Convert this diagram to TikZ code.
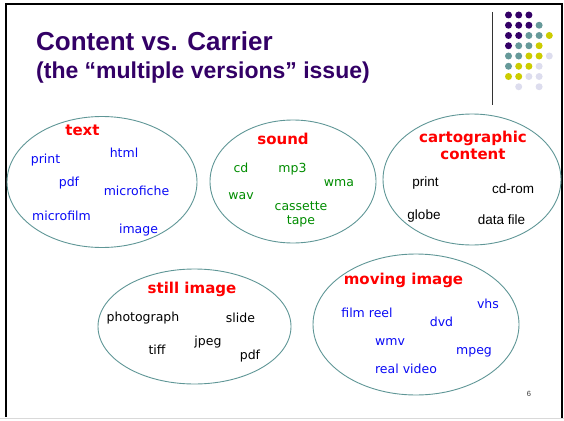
\documentclass[tikz,border=0pt]{standalone}
\usepackage{fontspec}
\setmainfont{Liberation Sans}
\newfontfamily\comicfont{DejaVu Sans}
\usepackage{xcolor}

\definecolor{titlepurple}{RGB}{51,0,102}
\definecolor{dotteal}{RGB}{102,153,153}
\definecolor{dotyellow}{RGB}{204,204,0}
\definecolor{dotlilac}{RGB}{221,221,238}
\definecolor{rimteal}{RGB}{95,150,150}
\definecolor{itemblue}{RGB}{10,10,245}
\definecolor{itemgreen}{RGB}{0,140,0}

\begin{document}
\begin{tikzpicture}[
                x=1pt, y=-1pt,
                title/.style={anchor=base west, inner sep=0pt, text=titlepurple, font=\bfseries\fontsize{26}{29}\selectfont},
                subtitle/.style={title, font=\bfseries\fontsize{23}{26}\selectfont},
                group/.style={draw=rimteal, line width=0.9pt},
                heading/.style={inner sep=0pt, text=red, font=\comicfont\bfseries\fontsize{15}{17}\selectfont},
                item/.style={inner sep=0pt, font=\comicfont\fontsize{12.5}{14}\selectfont},
                blueitem/.style={item, text=itemblue},
                greenitem/.style={item, text=itemgreen},
                blackitem/.style={item, text=black},
                mapitem/.style={inner sep=0pt, font=\fontsize{13.5}{15}\selectfont},
                dot/.style={radius=3.5}
                ]
                \useasboundingbox (0,0) rectangle (564,420);

                % Slide frame
                \draw[line width=2.4pt] (6.2,3.4) -- (6.2,417);
                \draw[line width=1.3pt] (5,4) -- (563,4);
                \draw[line width=2pt] (562.2,3.4) -- (562.2,417.5);
                \draw[black!15, line width=1pt] (0,418.8) -- (564,418.8);

                % Title
                \node[title] (ttl) at (36,50.7) {Content vs. Carrier};
                \node[subtitle] (subttl) at (36,78.3) {(the “multiple versions” issue)};

                % Corner decoration
                \draw[black!80, line width=0.8pt] (492,12) -- (492,105);
                \fill[titlepurple] (508.5,15) circle[dot] (518.7,15) circle[dot] (528.9,15) circle[dot];
                \fill[titlepurple] (508.5,25.25) circle[dot] (518.7,25.25) circle[dot] (528.9,25.25) circle[dot];
                \fill[dotteal] (539.1,25.25) circle[dot];
                \fill[titlepurple] (508.5,35.5) circle[dot] (518.7,35.5) circle[dot];
                \fill[dotteal] (528.9,35.5) circle[dot] (539.1,35.5) circle[dot];
                \fill[dotyellow] (549.3,35.5) circle[dot];
                \fill[titlepurple] (508.5,45.75) circle[dot];
                \fill[dotteal] (518.7,45.75) circle[dot] (528.9,45.75) circle[dot];
                \fill[dotyellow] (539.1,45.75) circle[dot];
                \fill[dotteal] (508.5,56) circle[dot] (518.7,56) circle[dot];
                \fill[dotyellow] (528.9,56) circle[dot] (539.1,56) circle[dot];
                \fill[dotlilac] (549.3,56) circle[dot];
                \fill[dotteal] (508.5,66.25) circle[dot];
                \fill[dotyellow] (518.7,66.25) circle[dot] (528.9,66.25) circle[dot];
                \fill[dotlilac] (539.1,66.25) circle[dot];
                \fill[dotyellow] (508.5,76.5) circle[dot] (518.7,76.5) circle[dot];
                \fill[dotlilac] (528.9,76.5) circle[dot] (539.1,76.5) circle[dot];
                \fill[dotlilac] (518.7,86.75) circle[dot] (539.1,86.75) circle[dot];

                % Groups
                \draw[group] (102,182) ellipse (95 and 65.5);
                \draw[group] (293,181.5) ellipse (83 and 61.5);
                \draw[group] (472,179.5) ellipse (89 and 65.5);
                \draw[group] (194.5,326.5) ellipse (96.5 and 57.5);
                \draw[group] (416,324.5) ellipse (103 and 70.5);

                % Text group
                \node[heading] (txthead) at (82.5,130) {text};
                \node[blueitem] (txtprint) at (45.5,160) {print};
                \node[blueitem] (txthtml) at (124,153) {html};
                \node[blueitem] (txtpdf) at (69,183) {pdf};
                \node[blueitem] (txtfiche) at (136.5,191) {microfiche};
                \node[blueitem] (txtfilm) at (61.5,216) {microfilm};
                \node[blueitem] (txtimage) at (138.5,230) {image};

                % Sound group
                \node[heading] (sndhead) at (283,139) {sound};
                \node[greenitem] (sndcd) at (241,168) {cd};
                \node[greenitem] (sndmp3) at (292.5,169) {mp3};
                \node[greenitem] (sndwma) at (339,183) {wma};
                \node[greenitem] (sndwav) at (241,196) {wav};
                \node[greenitem, align=center] (sndtape) at (301,214) {cassette\\tape};

                % Cartographic group
                \node[heading, align=center] (maphead) at (473,145.5) {cartographic\\content};
                \node[mapitem] (mapprint) at (425.5,183) {print};
                \node[mapitem] (mapcdrom) at (513,189) {cd-rom};
                \node[mapitem] (mapglobe) at (424,216) {globe};
                \node[mapitem] (mapdata) at (501.5,220) {data file};

                % Still image group
                \node[heading] (stillhead) at (192,289) {still image};
                \node[blackitem] (stillphoto) at (143,318) {photograph};
                \node[blackitem] (stillslide) at (240.5,318) {slide};
                \node[blackitem] (stilljpeg) at (208,342) {jpeg};
                \node[blackitem] (stilltiff) at (157,350) {tiff};
                \node[blackitem] (stillpdf) at (250,356) {pdf};

                % Moving image group
                \node[heading] (movhead) at (403.5,280) {moving image};
                \node[blueitem] (movvhs) at (488,304) {vhs};
                \node[blueitem] (movreel) at (367,313) {film reel};
                \node[blueitem] (movdvd) at (441.5,322) {dvd};
                \node[blueitem] (movwmv) at (390,342) {wmv};
                \node[blueitem] (movmpeg) at (474,352) {mpeg};
                \node[blueitem] (movreal) at (406,369) {real video};

                % Slide number
                \node[inner sep=0pt, text=black!80, font=\fontsize{7.5}{9}\selectfont] (pgnum) at (529,394) {6};

\end{tikzpicture}
\end{document}
